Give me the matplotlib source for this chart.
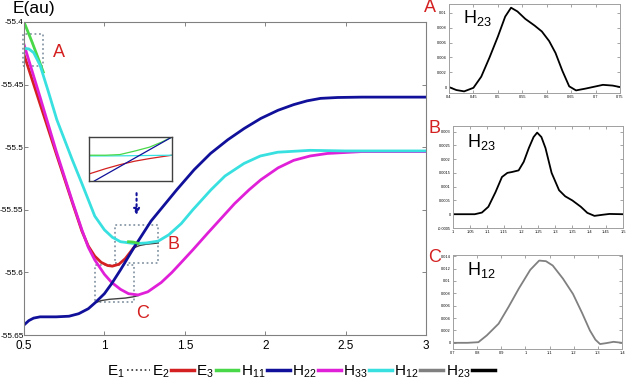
import matplotlib.pyplot as plt
from matplotlib import font_manager
from matplotlib.lines import Line2D
from matplotlib.patches import Rectangle

plt.rcParams['font.family'] = ['Liberation Sans', 'DejaVu Sans']
plt.rcParams['mathtext.fontset'] = 'custom'
plt.rcParams['mathtext.rm'] = 'Liberation Sans'

# diabatic curves (main panel)
x_h11 = [0.5, 0.53, 0.56, 0.6, 0.7, 0.78, 0.84, 0.9, 0.94, 1.0, 1.045, 1.1, 1.18, 1.29, 1.354,
         1.45, 1.558, 1.66, 1.768, 1.87, 1.973, 2.08, 2.177, 2.26, 2.344, 2.45, 2.6, 3.0]
h11 = [-55.642, -55.6385, -55.6365, -55.6355, -55.6355, -55.635, -55.633, -55.629, -55.6245, -55.617,
       -55.609, -55.598, -55.581, -55.559, -55.549, -55.534, -55.518, -55.505, -55.494, -55.485,
       -55.477, -55.4705, -55.466, -55.463, -55.461, -55.4603, -55.46, -55.46]

x_h22 = [0.5, 0.6, 0.7, 0.8, 0.86, 0.9, 0.94, 1.0, 1.045, 1.1, 1.15, 1.21, 1.27, 1.354, 1.42, 1.478,
         1.55, 1.64, 1.725, 1.81, 1.9, 1.973, 2.08, 2.177, 2.28, 2.387, 2.6, 3.0]
h22 = [-55.418, -55.46, -55.503, -55.543, -55.566, -55.58, -55.59, -55.6015, -55.608, -55.6135,
       -55.617, -55.618, -55.6155, -55.608, -55.6, -55.592, -55.582, -55.569, -55.557, -55.545,
       -55.534, -55.526, -55.5165, -55.5105, -55.507, -55.505, -55.5035, -55.5035]

x_h33 = [0.5, 0.53, 0.56, 0.6, 0.65, 0.704, 0.8, 0.86, 0.9, 0.94, 1.0, 1.05, 1.1, 1.187, 1.26, 1.335,
         1.4, 1.478, 1.55, 1.663, 1.75, 1.868, 1.97, 2.078, 2.28, 2.5, 3.0]
h33 = [-55.421, -55.4215, -55.4245, -55.4345, -55.455, -55.478, -55.51, -55.529, -55.542, -55.555,
       -55.566, -55.572, -55.5755, -55.577, -55.5765, -55.575, -55.57, -55.561, -55.55, -55.534,
       -55.523, -55.513, -55.507, -55.504, -55.5025, -55.503, -55.503]

# adiabatic pieces visible around the crossings
x_e1 = [0.94, 0.98, 1.03, 1.08, 1.13, 1.18, 1.21]
e1 = [-55.6245, -55.6225, -55.6215, -55.621, -55.6205, -55.6195, -55.6185]
x_e1b = [1.18, 1.22, 1.26, 1.3, 1.335]
e1b = [-55.5805, -55.5785, -55.5775, -55.577, -55.5765]
x_e2 = [0.5, 0.6, 0.7, 0.8, 0.86, 0.9, 0.94, 0.98, 1.02, 1.05, 1.09, 1.13, 1.16, 1.19]
e2 = [-55.426, -55.4655, -55.505, -55.544, -55.567, -55.579, -55.587, -55.592, -55.5945, -55.595,
      -55.5935, -55.589, -55.584, -55.579]
x_e3 = [0.5, 0.55, 0.6, 0.62]
e3 = [-55.4, -55.416, -55.433, -55.44]
x_e3b = [1.15, 1.18, 1.21]
e3b = [-55.5755, -55.5758, -55.5768]

# coupling panels
xa = [0.4, 0.415, 0.431, 0.45, 0.466, 0.483, 0.5, 0.515, 0.527, 0.54, 0.556, 0.575, 0.59, 0.605,
      0.618, 0.632, 0.646, 0.66, 0.68, 0.694, 0.715, 0.735, 0.75]
ha = [0.0, -0.0004, -0.00058, -0.0001, 0.0014, 0.004, 0.0068, 0.0095, 0.0107, 0.0102, 0.0092,
      0.0083, 0.0075, 0.0062, 0.0046, 0.0022, 0.0001, -0.00045, -0.0002, 0.0, 0.0003, 0.0002, 0.0]
xb = [1.0, 1.064, 1.085, 1.104, 1.125, 1.144, 1.16, 1.173, 1.193, 1.208, 1.223, 1.237, 1.2475,
      1.26, 1.272, 1.29, 1.312, 1.33, 1.351, 1.376, 1.395, 1.416, 1.44, 1.46, 1.5]
hb = [0.0, 0.0, 0.00006, 0.00027, 0.0008, 0.00135, 0.0015, 0.00153, 0.00159, 0.0019, 0.0024, 0.0028,
      0.00296, 0.0028, 0.0024, 0.0015, 0.00087, 0.00065, 0.0005, 0.00027, 0.00005, -0.00006,
      -0.00002, 0.00001, 0.0]
xc = [0.7, 0.76, 0.805, 0.84, 0.889, 0.93, 0.973, 1.02, 1.057, 1.085, 1.113, 1.155, 1.197, 1.235,
      1.267, 1.29, 1.309, 1.335, 1.365, 1.4]
hc = [0.0, 0.0, 0.0001, 0.0012, 0.0031, 0.0058, 0.0088, 0.0118, 0.0133, 0.0132, 0.0125, 0.0104,
      0.0079, 0.0048, 0.002, 0.0005, -0.0002, -0.00005, 0.00016, 0.0]

# zoom-inset lines (axes fractions)
ins_x = [0.0, 0.2, 0.37, 0.55, 0.73, 0.87, 1.0]
ins_green = [0.586, 0.586, 0.6, 0.68, 0.77, 0.88, 1.0]
ins_cyan = [0.57, 0.57, 0.572, 0.576, 0.58, 0.583, 0.586]
ins_red = [0.16, 0.28, 0.37, 0.45, 0.51, 0.55, 0.586]
ins_blue_x = [0.064, 1.0]
ins_blue = [0.0, 1.0]

NAVY = '#10109a'
MAG = '#e020d8'
CYAN = '#38e0e0'
RED = '#d42020'
GREEN = '#48d848'
BOXC = '#8a9aa8'

# narrow face for tick labels if one is around
try:
    font_manager.findfont('Liberation Sans Narrow', fallback_to_default=False)
    NARROW = 'Liberation Sans Narrow'
except ValueError:
    NARROW = 'Liberation Sans'

fig = plt.figure(figsize=(6.27, 3.87), dpi=100)
W, H = 627, 387


def fax(l, t, r, b):
    return fig.add_axes([l / W, 1 - b / H, (r - l) / W, (b - t) / H])


ax = fax(24, 22, 426, 335)
ax.plot(x_e2, e2, color=RED, lw=2)
ax.plot(x_e3, e3, color=GREEN, lw=2)
ax.plot(x_e1, e1, color='#404040', lw=1)
ax.plot(x_e1b, e1b, color='#404040', lw=1)
ax.plot(x_h22, h22, color=MAG, lw=2)
ax.plot(x_h33, h33, color=CYAN, lw=2)
ax.plot(x_h11, h11, color=NAVY, lw=2)
ax.plot(x_e3b, e3b, color=GREEN, lw=2)

ax.set_xlim(0.5, 3)
ax.set_ylim(-55.65, -55.4)
ax.set_xticks([0.5, 1, 1.5, 2, 2.5, 3], ['0.5', '1', '1.5', '2', '2.5', '3'])
ax.set_yticks([-55.65, -55.6, -55.55, -55.5, -55.45, -55.4],
              ['-55.65', '-55.6', '-55.55', '-55.5', '-55.45', '-55.4'])
ax.tick_params(direction='in', length=3, width=0.6, color='#707070', top=True, right=True,
               labelsize=8.5)
ax.tick_params(axis='y', pad=0.3, labelsize=5.9)
for lbl in ax.get_xticklabels() + ax.get_yticklabels():
    lbl.set_family(NARROW)
for s in ax.spines.values():
    s.set_color('#808080')
    s.set_linewidth(0.8)
fig.text(13 / W, 1 - 8 / H, 'E(au)', fontsize=12.5, va='center')

# dotted zoom boxes
for (x0, x1, y0, y1) in [(0.496, 0.618, -55.435, -55.4096), (1.069, 1.335, -55.5925, -55.562),
                         (0.94, 1.187, -55.6236, -55.594)]:
    ax.add_patch(Rectangle((x0, y0), x1 - x0, y1 - y0, fill=False, ec=BOXC, lw=1.3,
                           ls=(0, (1, 1.5)), clip_on=False))
ax.text(0.68, -55.424, 'A', color=RED, fontsize=13, va='center')
ax.text(1.39, -55.5775, 'B', color=RED, fontsize=13, va='center')
ax.text(1.2, -55.626, 'C', color=RED, fontsize=13, va='top')
ax.annotate('', xy=(1.2, -55.5565), xytext=(1.2, -55.5345),
            arrowprops=dict(arrowstyle='-|>', color=NAVY, lw=1.5, ls=':', mutation_scale=9))

# small zoom inset
ins = fax(89, 137, 172, 181)
ins.plot(ins_x, ins_red, color=RED, lw=0.9)
ins.plot(ins_x, ins_cyan, color=CYAN, lw=0.9)
ins.plot(ins_x, ins_green, color=GREEN, lw=0.9)
ins.plot(ins_blue_x, ins_blue, color=NAVY, lw=0.9)
ins.set_xlim(0, 1)
ins.set_ylim(0, 1)
ins.set_xticks([])
ins.set_yticks([])
for s in ins.spines.values():
    s.set_color('#404040')
    s.set_linewidth(1)


def panel(box, x, y, col, xlim, ylim, xt, yt, letter, lab):
    a = fax(*box)
    a.plot(x, y, color=col, lw=1.3)
    a.set_xlim(*xlim)
    a.set_ylim(*ylim)
    a.set_xticks(xt, [f'{v:g}' for v in xt])
    a.set_yticks(yt, [f'{v:g}' for v in yt])
    a.tick_params(direction='in', length=2, width=0.5, color='#808080', top=True, right=True,
                  labelsize=2.8, pad=1.5)
    for s in a.spines.values():
        s.set_color('#a0a0a0')
        s.set_linewidth(0.7)
    a.text(0.08, 0.84, lab, transform=a.transAxes, fontsize=13, va='center')
    fig.text((box[0] - 25) / W, 1 - (box[1] + 3) / H, letter, color=RED, fontsize=13,
             va='center')
    return a


panel((449, 4, 620, 93), xa, ha, 'black', (0.4, 0.75), (-0.0008, 0.0112),
      [0.4, 0.45, 0.5, 0.55, 0.6, 0.65, 0.7, 0.75], [0, 0.002, 0.004, 0.006, 0.008, 0.01],
      'A', r'H$_{\mathregular{23}}$')
panel((453, 126, 623, 228), xb, hb, 'black', (1.0, 1.5), (-0.0005, 0.0032),
      [1, 1.05, 1.1, 1.15, 1.2, 1.25, 1.3, 1.35, 1.4, 1.45, 1.5],
      [-0.0005, 0, 0.0005, 0.001, 0.0015, 0.002, 0.0025, 0.003], 'B', r'H$_{\mathregular{23}}$')
panel((453, 255, 622, 349), xc, hc, '#808080', (0.7, 1.4), (-0.001, 0.0142),
      [0.7, 0.8, 0.9, 1, 1.1, 1.2, 1.3, 1.4],
      [0, 0.002, 0.004, 0.006, 0.008, 0.01, 0.012, 0.014], 'C', r'H$_{\mathregular{12}}$')

handles = [Line2D([], [], color='#303030', lw=1.2, ls=':'),
           Line2D([], [], color=RED, lw=2.5),
           Line2D([], [], color=GREEN, lw=2.5),
           Line2D([], [], color=NAVY, lw=2.5),
           Line2D([], [], color=MAG, lw=2.5),
           Line2D([], [], color=CYAN, lw=2.5),
           Line2D([], [], color='#808080', lw=2.5),
           Line2D([], [], color='black', lw=2.5)]
labels = [r'E$_{\mathregular{1}}$', r'E$_{\mathregular{2}}$', r'E$_{\mathregular{3}}$',
          r'H$_{\mathregular{11}}$', r'H$_{\mathregular{22}}$', r'H$_{\mathregular{33}}$',
          r'H$_{\mathregular{12}}$', r'H$_{\mathregular{23}}$']
fig.legend(handles, labels, loc='center', bbox_to_anchor=(301 / W, 1 - 372 / H), ncol=8,
           frameon=False, markerfirst=False, fontsize=11, handlelength=1.5, handletextpad=0.1,
           columnspacing=0.15, borderpad=0.2)

fig.savefig('out.png', dpi=100)
